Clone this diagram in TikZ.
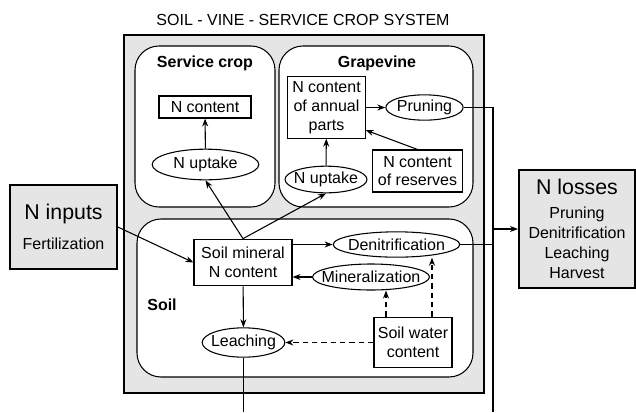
\documentclass[tikz,border=0pt]{standalone}
\usepackage{fontspec}
\setmainfont{Liberation Sans}
\usepackage{tikz}
\usetikzlibrary{arrows.meta,shapes.geometric}

\definecolor{boxgray}{RGB}{229,229,229}

\tikzset{
  sysbox/.style={draw,line width=1.5pt,fill=boxgray},
  partbox/.style={draw,line width=0.8pt,fill=white,rounded corners=18pt},
  pool/.style={draw,line width=0.8pt,fill=white,align=center,inner sep=1pt},
  proc/.style={draw,ellipse,line width=0.8pt,fill=white,inner xsep=-6pt,inner ysep=0pt},
  ext/.style={draw,line width=1.5pt,fill=boxgray,align=center,inner sep=1pt},
  partlabel/.style={font=\fontsize{12}{14}\selectfont\bfseries},
  flow/.style={-{Stealth[length=6pt,width=4.5pt]},line width=0.8pt},
  wflow/.style={flow,dash pattern=on 4pt off 3pt}
}

\begin{document}
\begin{tikzpicture}[x=0.75pt,y=0.75pt,yscale=-1,xscale=1,font=\fontsize{12}{14}\selectfont,line width=0.8pt]
\useasboundingbox (0,0) rectangle (636,412);

%Shape: Rectangle [system]
\draw [sysbox] (124,35) rectangle (484,393);
%Shape: Rounded Rect [service crop]
\draw [partbox] (135,46) rectangle (275,207);
%Shape: Rounded Rect [grapevine]
\draw [partbox] (279,46) rectangle (473,207);
%Shape: Rounded Rect [soil]
\draw [partbox] (137,219) rectangle (473,377);

% Text Node
\draw (303,20) node (title) {SOIL - VINE - SERVICE CROP SYSTEM};
% Text Node
\draw (205,63) node [partlabel] (sclabel) {Service crop};
% Text Node
\draw (377,63) node [partlabel] (gvlabel) {Grapevine};
% Text Node
\draw (162,305) node [partlabel] (soillabel) {Soil};

% Service crop
\draw (205,107) node [pool,minimum width=69pt,minimum height=16.5pt] (scn) {N content};
\draw (205.5,164.5) node [proc,minimum width=80pt,minimum height=23pt] (scup) {N uptake};

% Grapevine
\draw (326.5,107.5) node [pool,minimum width=58pt,minimum height=46pt] (annual) {N content\\of annual\\parts};
\draw (424.5,107.5) node [proc,minimum width=58pt,minimum height=19pt] (pruning) {Pruning};
\draw (417.5,171) node [pool,minimum width=67pt,minimum height=31.5pt] (reserves) {N content\\of reserves};
\draw (326,179.5) node [proc,minimum width=61.5pt,minimum height=20pt] (gup) {N uptake};

% Soil
\draw (243,262.5) node [pool,minimum width=73.5pt,minimum height=35pt] (soilmin) {Soil mineral\\N content};
\draw (396.5,244.5) node [proc,minimum width=95pt,minimum height=19pt] (denit) {Denitrification};
\draw (371,277) node [proc,minimum width=87pt,minimum height=19.5pt] (miner) {Mineralization};
\draw (243.5,342.5) node [proc,minimum width=62pt,minimum height=22pt] (leach) {Leaching};
\draw (413,342.5) node [pool,minimum width=58.5pt,minimum height=38pt] (swc) {Soil water\\content};

% Inputs and losses
\draw (63.5,227) node [ext,minimum width=80pt,minimum height=63pt] (ninputs) {{\fontsize{16}{19}\selectfont N inputs}\\[9pt]Fertilization};
\draw (577,229) node [ext,minimum width=87pt,minimum height=88.5pt,font=\fontsize{12}{15}\selectfont] (nlosses) {{\fontsize{16}{19}\selectfont N losses}\\[3pt]Pruning\\Denitrification\\Leaching\\Harvest};

\coordinate (busbot) at (493,412);
\coordinate (leachbot) at (243.5,412);

% Fluxes
\draw [flow] (ninputs.east) -- (soilmin.west);
\draw [flow] (soilmin.north) -- (scup.south);
\draw [flow] (soilmin.north) -- (gup.south);
\draw [flow] (scup) -- (scn);
\draw [flow] (gup) -- (annual);
\draw [flow] (reserves.north) -- (annual.-30);
\draw [flow] (annual) -- (pruning);
\draw [flow] (soilmin.east |- denit) -- (denit);
\draw [flow] (miner) -- (miner -| soilmin.east);
\draw [flow] (soilmin) -- (leach);

% Losses
\draw (pruning.east) -| (busbot);
\draw (denit.east) -- (denit.east -| busbot);
\draw (leach.south) -- (leachbot);
\draw [flow] (nlosses.west -| busbot) -- (nlosses.west);

% Water control
\draw [wflow] ([xshift=-20.25pt]swc.north) -- ([xshift=-20.25pt]swc.north |- miner.south);
\draw [wflow] ([xshift=14.25pt]swc.north) -- ([xshift=14.25pt]swc.north |- denit.south);
\draw [wflow] (swc) -- (leach);

\end{tikzpicture}
\end{document}
